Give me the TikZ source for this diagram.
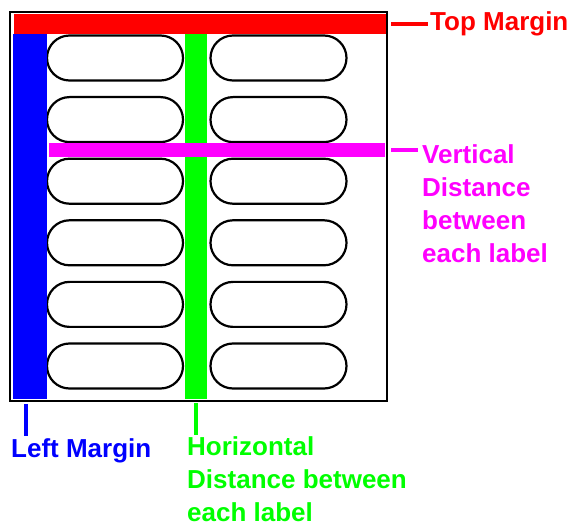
\documentclass[tikz,border=0pt]{standalone}
\usepackage{fontspec}
\setmainfont{Liberation Sans}
\usetikzlibrary{shapes.misc}
\definecolor{purered}{RGB}{255,0,0}
\definecolor{pureblue}{RGB}{0,0,255}
\definecolor{puregreen}{RGB}{0,255,0}
\definecolor{puremagenta}{RGB}{255,0,255}
\tikzset{
  label oval/.style={rounded rectangle,draw,line width=2.2pt,inner sep=0pt,
    minimum width=136pt,minimum height=45pt},
  bar/.style={inner sep=0pt,outer sep=0pt,draw=none},
  caption/.style={inner sep=0pt,align=left,anchor=base west,
    font=\fontsize{26}{33}\selectfont\bfseries},
  link/.style={line width=4pt}
}
\begin{document}
\begin{tikzpicture}[x=1pt,y=-1pt]
\useasboundingbox (0,0) rectangle (573,526);
% labels on the sheet
\node[label oval] (L1) at (115,58) {};
\node[label oval] (L2) at (115,119.6) {};
\node[label oval] (L3) at (115,181.2) {};
\node[label oval] (L4) at (115,242.8) {};
\node[label oval] (L5) at (115,304.4) {};
\node[label oval] (L6) at (115,366) {};
\node[label oval] (R1) at (278.5,58) {};
\node[label oval] (R2) at (278.5,119.6) {};
\node[label oval] (R3) at (278.5,181.2) {};
\node[label oval] (R4) at (278.5,242.8) {};
\node[label oval] (R5) at (278.5,304.4) {};
\node[label oval] (R6) at (278.5,366) {};
% margin and distance bars
\node[bar,fill=purered,minimum width=372pt,minimum height=20pt] (topbar) at (200,24) {};
\node[bar,fill=pureblue,minimum width=34pt,minimum height=365pt] (leftbar) at (30,216.5) {};
\node[bar,fill=puregreen,minimum width=22pt,minimum height=365pt] (hbar) at (196,216.5) {};
\node[bar,fill=puremagenta,minimum width=336pt,minimum height=14pt] (vbar) at (217,150) {};
% the sheet
\node[draw,line width=2pt,inner sep=0pt,minimum width=377pt,minimum height=389pt] (sheet) at (198.5,206.5) {};
% captions (base = last line)
\node[caption,text=purered] (toptext) at (430,31) {Top Margin};
\node[caption,text=puremagenta] (vtext) at (422,263) {Vertical\\Distance\\between\\each label};
\node[caption,text=pureblue] (lefttext) at (11,457) {Left Margin};
\node[caption,text=puregreen] (htext) at (187,521) {Horizontal\\Distance between\\each label};
\coordinate (leftend) at (26,436);
\coordinate (hend) at (196,435);
\path
  (topbar.east) edge[link,purered,shorten <=5pt,shorten >=2pt] (topbar.east -| toptext.west)
  (vbar.east) edge[link,puremagenta,shorten <=6pt,shorten >=4pt] (vbar.east -| vtext.west)
  (sheet.south -| leftend) edge[link,pureblue,shorten <=2pt] (leftend)
  (hbar.south) edge[link,puregreen,shorten <=4pt] (hend)
;
\end{tikzpicture}
\end{document}
